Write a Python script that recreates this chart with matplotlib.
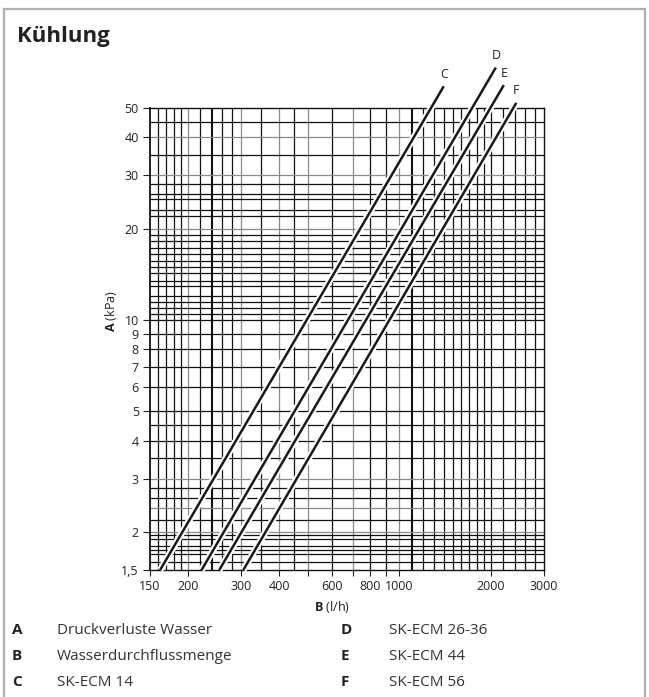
import matplotlib
matplotlib.use("Agg")
import matplotlib.pyplot as plt
import matplotlib.patheffects as pe
from matplotlib.lines import Line2D
from matplotlib.ticker import FixedLocator, FixedFormatter, NullLocator

plt.rcParams["font.family"] = ["Open Sans", "DejaVu Sans"]
plt.rcParams["mathtext.fontset"] = "custom"
plt.rcParams["mathtext.rm"] = "Open Sans"
plt.rcParams["mathtext.bf"] = "Open Sans:bold"

# pressure drop curves: flow (l/h) and pressure drop (kPa) at both ends
series = ["C", "D", "E", "F"]
flow_lo = [162, 222, 254, 305]
flow_hi = [1400, 2080, 2210, 2430]
dp_lo = [1.5, 1.5, 1.5, 1.5]
dp_hi = [59, 68, 59.5, 52]

legend_keys = ["A", "B", "C", "D", "E", "F"]
legend_text = ["Druckverluste Wasser", "Wasserdurchflussmenge", "SK-ECM 14",
               "SK-ECM 26-36", "SK-ECM 44", "SK-ECM 56"]

x_ticks = [150, 200, 300, 400, 600, 800, 1000, 2000, 3000]
x_tick_marks = [150, 200, 300, 400, 500, 600, 700, 800, 900, 1000, 2000, 3000]
y_ticks = [1.5, 2, 3, 4, 5, 6, 7, 8, 9, 10, 20, 30, 40, 50]
y_labels = ["1,5", "2", "3", "4", "5", "6", "7", "8", "9", "10", "20", "30", "40", "50"]

# chart grid (as printed in the original diagram)
v_grid = [160, 170, 180, 190, 200, 220, 240, 260, 280, 300, 350, 400, 450, 500,
          600, 700, 800, 900, 1000, 1100, 1200, 1300, 1400, 1500, 1600, 1700,
          1800, 1900, 2000, 2200, 2400, 2600, 2800]
v_thick = [240, 1100]
v_gray = [200, 300, 400, 500, 700, 1000]
h_grid = [1.6, 1.7, 1.75, 1.8, 1.9, 1.95, 2, 2.2, 2.4, 2.6, 2.8, 3, 3.5, 4, 4.5,
          5, 6, 7, 8, 9, 10, 10.5, 11, 11.5, 12, 13, 13.5, 14.3, 15, 15.7, 16.5,
          17.3, 18.2, 19.1, 20, 22, 23, 25, 26, 28, 30, 35, 40, 45]
h_gray = [2, 2.4, 3, 20, 30, 40]

fig = plt.figure(figsize=(6.49, 6.97), dpi=100)
ax = fig.add_axes([0.2311, 0.1822, 0.6071, 0.6628])
ax.set_xscale("log")
ax.set_yscale("log")
ax.set_xlim(150, 3000)
ax.set_ylim(1.5, 50)

for v in v_grid:
    c = "#8a8a8a" if v in v_gray else "#111111"
    lw = 1.5 if v in v_thick else 0.9
    ax.axvline(v, color=c, lw=lw, zorder=1)
for h in h_grid:
    c = "#8a8a8a" if h in h_gray else "#111111"
    ax.axhline(h, color=c, lw=0.9, zorder=1)

for s, x0, x1, y0, y1 in zip(series, flow_lo, flow_hi, dp_lo, dp_hi):
    ax.plot([x0, x1], [y0, y1], color="#1a1a1a", lw=1.8, clip_on=False,
            solid_capstyle="butt", zorder=3,
            path_effects=[pe.Stroke(linewidth=4.8, foreground="white"), pe.Normal()])
    ax.annotate(s, (x1, y1), xytext=(0, 4), textcoords="offset points",
                ha="center", va="bottom", fontsize=9, color="#222222",
                annotation_clip=False)

for sp in ax.spines.values():
    sp.set_color("#111111")
    sp.set_linewidth(1.0)
ax.spines["left"].set_linewidth(1.3)

ax.xaxis.set_major_locator(FixedLocator(x_tick_marks))
ax.xaxis.set_major_formatter(FixedFormatter([str(v) if v in x_ticks else "" for v in x_tick_marks]))
ax.xaxis.set_minor_locator(NullLocator())
ax.yaxis.set_major_locator(FixedLocator(y_ticks))
ax.yaxis.set_major_formatter(FixedFormatter(y_labels))
ax.yaxis.set_minor_locator(NullLocator())
ax.tick_params(axis="x", length=4.5, width=0.8, pad=3, labelsize=9, colors="#222222")
ax.tick_params(axis="y", length=5, width=0.8, pad=3, labelsize=9, colors="#222222")

ax.set_xlabel(r"$\mathbf{B}$ (l/h)", fontsize=9, color="#222222")
ax.xaxis.set_label_coords(0.462, -0.062)
ax.set_ylabel(r"$\mathbf{A}$ (kPa)", fontsize=9, color="#222222")
ax.yaxis.set_label_coords(-0.078, 0.56)

fig.text(17 / 649, 1 - 42 / 697, "Kühlung", fontsize=16, fontweight="bold",
         color="#222222", va="baseline")

# frame around the figure
for xs, ys in [([4, 4], [9, 700]), ([4, 645], [9, 9]), ([645, 645], [9, 700])]:
    fig.add_artist(Line2D([x / 649 for x in xs], [1 - y / 697 for y in ys],
                          color="#b0b0b0", lw=1.6))

rows = [630, 656, 682]
for i, (k, t) in enumerate(zip(legend_keys, legend_text)):
    col = i // 3
    y = 1 - rows[i % 3] / 697
    kx = [12, 341][col] / 649
    tx = [57, 389][col] / 649
    fig.text(kx, y, k, fontsize=11, fontweight="bold", color="#222222", va="center")
    fig.text(tx, y, t, fontsize=11, color="#333333", va="center")

fig.savefig("out.png", dpi=100)
